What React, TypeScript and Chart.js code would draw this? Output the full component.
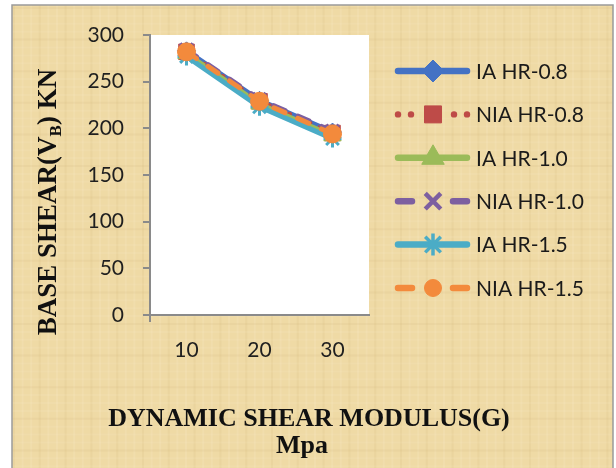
import React, { useEffect, useRef } from 'react';
import { Chart, registerables } from 'chart.js';
import { drawPoint } from 'chart.js/helpers';

Chart.register(...registerables);

// ---- data ----
const categories = ['10', '20', '30'];
const yMin = 0;
const yMax = 300;
const yStep = 50;
const seriesNames = ['IA HR-0.8', 'NIA HR-0.8', 'IA HR-1.0', 'NIA HR-1.0', 'IA HR-1.5', 'NIA HR-1.5'];
const iaHR08 = [283, 230, 196];
const niaHR08 = [282, 229, 195];
const iaHR10 = [280, 226, 192];
const niaHR10 = [284, 231, 197];
const iaHR15 = [277, 223, 189];
const niaHR15 = [282, 229, 194];
const seriesValues = [iaHR08, niaHR08, iaHR10, niaHR10, iaHR15, niaHR15];
const xTitleLines = ['DYNAMIC SHEAR MODULUS(G)', 'Mpa'];
const yTitleParts = ['BASE SHEAR(V', 'B', ') KN'];

// ---- styles ----
const seriesStyles = [
  { color: '#4472C4', dash: 'solid', point: 'rectRot', radius: 9, lr: 11, bw: 1, lbw: 1 },
  { color: '#BE4B48', dash: 'dot', point: 'rect', radius: 11, lr: 12, bw: 1, lbw: 1 },
  { color: '#9BBB59', dash: 'solid', point: 'triangle', radius: 10, lr: 13, bw: 1, lbw: 1 },
  { color: '#7D5FA0', dash: 'dash', point: 'crossRot', radius: 9, lr: 11, bw: 3.5, lbw: 4.5 },
  { color: '#4BACC6', dash: 'solid', point: 'star', radius: 9, lr: 11, bw: 3, lbw: 3.5 },
  { color: '#F38A3C', dash: 'dash', point: 'circle', radius: 9, lr: 8.5, bw: 1, lbw: 1 },
];
const dashArr = (d: string) => (d === 'dot' ? [0, 11] : d === 'dash' ? [12, 14] : []);

const AXIS = '#8a8a8a';
const TAN = '#EFDAA5';
const TICK_FONT = { family: 'Lato, "Open Sans", sans-serif', size: 21 };

const decorPlugin = {
  id: 'decor',
  beforeDraw(chart: any) {
    const { ctx, chartArea } = chart;
    const W = chart.width;
    const H = chart.height;
    ctx.save();
    ctx.fillStyle = '#ffffff';
    ctx.fillRect(0, 0, W, H);
    ctx.fillStyle = TAN;
    ctx.fillRect(12, 5, 601, H);
    // faint papyrus fibres (decoration only)
    for (let k = 0; k < 70; k++) {
      const x = 14 + k * 8.6;
      ctx.strokeStyle = k % 3 === 0 ? 'rgba(200,170,110,0.12)' : 'rgba(255,248,220,0.12)';
      ctx.lineWidth = 2;
      ctx.beginPath();
      ctx.moveTo(x, 5);
      ctx.lineTo(x, H);
      ctx.stroke();
    }
    for (let k = 0; k < 60; k++) {
      const y = 8 + k * 7.9;
      ctx.strokeStyle = k % 4 === 0 ? 'rgba(200,170,110,0.1)' : 'rgba(255,248,220,0.1)';
      ctx.lineWidth = 2;
      ctx.beginPath();
      ctx.moveTo(12, y);
      ctx.lineTo(613, y);
      ctx.stroke();
    }
    ctx.strokeStyle = '#9a9a9a';
    ctx.lineWidth = 1.5;
    ctx.strokeRect(12, 5, 601, H + 10);
    ctx.fillStyle = '#ffffff';
    ctx.fillRect(chartArea.left, chartArea.top, chartArea.right - chartArea.left, chartArea.bottom - chartArea.top);
    ctx.restore();
  },
  afterDraw(chart: any) {
    const { ctx } = chart;
    ctx.save();
    // x title
    ctx.fillStyle = '#111111';
    ctx.font = 'bold 26px "Liberation Serif", "Times New Roman", serif';
    ctx.textAlign = 'center';
    ctx.textBaseline = 'middle';
    ctx.fillText(xTitleLines[0], 309, 419);
    ctx.fillText(xTitleLines[1], 302, 446);
    // y title with subscript
    ctx.translate(47, 202);
    ctx.rotate(-Math.PI / 2);
    const big = 'bold 27px "Liberation Serif", "Times New Roman", serif';
    const small = 'bold 17px "Liberation Serif", "Times New Roman", serif';
    ctx.font = big;
    const w0 = ctx.measureText(yTitleParts[0]).width;
    const w2 = ctx.measureText(yTitleParts[2]).width;
    ctx.font = small;
    const w1 = ctx.measureText(yTitleParts[1]).width;
    const total = w0 + w1 + w2;
    ctx.textAlign = 'left';
    ctx.textBaseline = 'alphabetic';
    let x = -total / 2;
    ctx.font = big;
    ctx.fillText(yTitleParts[0], x, 9);
    x += w0;
    ctx.font = small;
    ctx.fillText(yTitleParts[1], x, 14);
    x += w1;
    ctx.font = big;
    ctx.fillText(yTitleParts[2], x, 9);
    ctx.restore();

    // legend
    ctx.save();
    const x0 = 395;
    const x1 = 470;
    const mx = 433;
    seriesNames.forEach((name, i) => {
      const st = seriesStyles[i];
      const y = 71 + i * 43.4;
      ctx.strokeStyle = st.color;
      ctx.fillStyle = st.color;
      ctx.lineWidth = 6.5;
      ctx.lineCap = 'round';
      if (st.dash === 'solid') {
        ctx.beginPath();
        ctx.moveTo(x0 + 3, y);
        ctx.lineTo(x1 - 3, y);
        ctx.stroke();
      } else if (st.dash === 'dash') {
        ctx.beginPath();
        ctx.moveTo(x0 + 3, y);
        ctx.lineTo(x0 + 17, y);
        ctx.moveTo(x1 - 17, y);
        ctx.lineTo(x1 - 3, y);
        ctx.stroke();
      } else {
        [x0 + 3, x0 + 16, x1 - 16, x1 - 3].forEach((dx) => {
          ctx.beginPath();
          ctx.arc(dx, y, 3.2, 0, Math.PI * 2);
          ctx.fill();
        });
      }
      ctx.lineWidth = st.lbw;
      ctx.lineCap = 'butt';
      drawPoint(ctx, { pointStyle: st.point, radius: st.lr, borderWidth: st.lbw, rotation: 0 } as any, mx, y);
      ctx.fillStyle = '#1a1a1a';
      ctx.font = '21px Lato, "Open Sans", sans-serif';
      ctx.textAlign = 'left';
      ctx.textBaseline = 'middle';
      ctx.fillText(name, 476, y + 1);
    });
    ctx.restore();
  },
};

export default function App() {
  const ref = useRef<HTMLCanvasElement | null>(null);
  useEffect(() => {
    if (!ref.current) return;
    const datasets = seriesNames.map((name, i) => {
      const st = seriesStyles[i];
      return {
        label: name,
        data: seriesValues[i],
        borderColor: st.color,
        backgroundColor: st.color,
        borderWidth: 5,
        borderDash: dashArr(st.dash),
        borderCapStyle: st.dash === 'solid' ? 'butt' : 'round',
        pointStyle: st.point,
        pointRadius: st.radius,
        pointBorderWidth: st.bw,
        pointBorderColor: st.color,
        pointBackgroundColor: st.color,
        tension: 0,
        order: seriesNames.length - i,
      };
    });
    const chart = new Chart(ref.current, {
      type: 'line',
      data: { labels: categories, datasets: datasets as any },
      plugins: [decorPlugin],
      options: {
        animation: false,
        responsive: false,
        devicePixelRatio: 1,
        layout: { padding: { left: 0, top: 35, right: 247, bottom: 0 } },
        plugins: { legend: { display: false }, tooltip: { enabled: false } },
        scales: {
          x: {
            type: 'category',
            offset: true,
            afterFit: (s: any) => {
              s.height = 153;
            },
            grid: {
              offset: true,
              drawOnChartArea: false,
              drawTicks: true,
              tickLength: 7,
              lineWidth: 2,
              color: (c: any) => (c.index === 0 ? AXIS : 'rgba(0,0,0,0)'),
            },
            border: { display: true, color: AXIS, width: 2 },
            ticks: { color: '#1f1f1f', font: TICK_FONT, padding: 16, maxRotation: 0 },
          },
          y: {
            min: yMin,
            max: yMax,
            afterFit: (s: any) => {
              s.width = 150;
            },
            grid: { drawOnChartArea: false, drawTicks: true, tickLength: 7, lineWidth: 2, color: AXIS },
            border: { display: true, color: AXIS, width: 2 },
            ticks: { stepSize: yStep, color: '#1f1f1f', font: TICK_FONT, padding: 19 },
          },
        },
      } as any,
    });
    return () => chart.destroy();
  }, []);
  return (
    <div style={{ position: 'absolute', left: 0, top: 0, width: 616, height: 468 }}>
      <canvas ref={ref} width={616} height={468} style={{ width: 616, height: 468, display: 'block' }} />
    </div>
  );
}
